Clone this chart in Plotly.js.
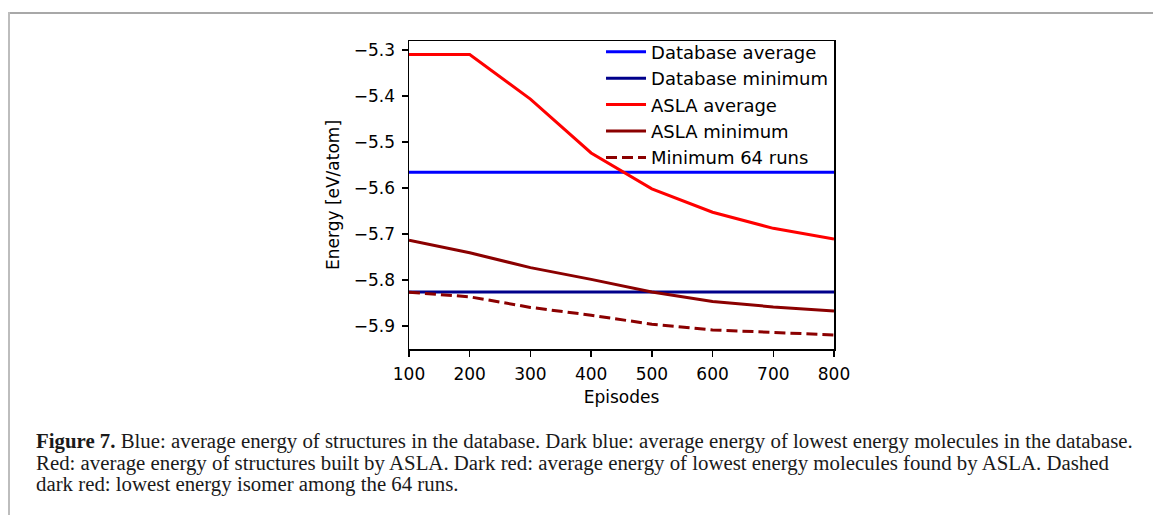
<!DOCTYPE html>
<html>
<head>
<meta charset="utf-8">
<script src="https://cdn.plot.ly/plotly-3.0.1.min.js"></script>
<style>
  html, body { margin: 0; padding: 0; background: #fff; }
  #page { position: relative; width: 1153px; height: 515px; overflow: hidden; background: #fff; }
  #frameTop { position: absolute; left: 8px; top: 12px; width: 1145px; height: 0; border-top: 2px solid #a8a8a8; }
  #frameLeft { position: absolute; left: 8px; top: 12px; width: 0; height: 503px; border-left: 2px solid #bdbdbd; }
  #chart { position: absolute; left: 0; top: 0; width: 1153px; height: 420px; }
  #caption { position: absolute; left: 36px; top: 431px; font-family: "Liberation Serif", "DejaVu Serif", serif;
             font-size: 18.5px; line-height: 21.7px; color: #1a1a1a; white-space: nowrap; }
  #caption span.line { display: block; }
</style>
</head>
<body>
<div id="page">
  <div id="frameTop"></div>
  <div id="frameLeft"></div>
  <div id="chart"></div>
  <div id="caption">
    <span class="line" id="l1"><b>Figure 7.</b> Blue: average energy of structures in the database. Dark blue: average energy of lowest energy molecules in the database.</span>
    <span class="line" id="l2">Red: average energy of structures built by ASLA. Dark red: average energy of lowest energy molecules found by ASLA. Dashed</span>
    <span class="line" id="l3">dark red: lowest energy isomer among the 64 runs.</span>
  </div>
</div>
<script>
// ---- data ----
const episodes = [100, 200, 300, 400, 500, 600, 700, 800];
const aslaAverage = [-5.310, -5.310, -5.407, -5.524, -5.602, -5.653, -5.688, -5.711];
const aslaMinimum = [-5.714, -5.741, -5.7735, -5.799, -5.8265, -5.847, -5.859, -5.868];
const minimum64Runs = [-5.827, -5.837, -5.860, -5.877, -5.8965, -5.909, -5.9145, -5.920];
const databaseAverage = -5.566;
const databaseMinimum = -5.8265;
const xTickVals = [100, 200, 300, 400, 500, 600, 700, 800];
const yTickVals = [-5.3, -5.4, -5.5, -5.6, -5.7, -5.8, -5.9];
const yTickText = ["\u22125.3", "\u22125.4", "\u22125.5", "\u22125.6", "\u22125.7", "\u22125.8", "\u22125.9"];
const seriesNames = ["Database average", "Database minimum", "ASLA average", "ASLA minimum", "Minimum 64 runs"];

const xEnds = [episodes[0], episodes[episodes.length - 1]];
const font = "DejaVu Sans, sans-serif";

const traces = [
  { x: xEnds, y: [databaseAverage, databaseAverage], name: seriesNames[0], mode: "lines",
    line: { color: "#0000ff", width: 3 } },
  { x: xEnds, y: [databaseMinimum, databaseMinimum], name: seriesNames[1], mode: "lines",
    line: { color: "#00008b", width: 3 } },
  { x: episodes, y: aslaAverage, name: seriesNames[2], mode: "lines",
    line: { color: "#ff0000", width: 3 } },
  { x: episodes, y: aslaMinimum, name: seriesNames[3], mode: "lines",
    line: { color: "#8b0000", width: 3 } },
  { x: episodes, y: minimum64Runs, name: seriesNames[4], mode: "lines",
    line: { color: "#8b0000", width: 3, dash: "11px,5px" } }
];

const axisCommon = {
  showgrid: false, zeroline: false, showline: true, mirror: true,
  linecolor: "#000", linewidth: 1.5, ticks: "outside", ticklen: 6, tickwidth: 1.5,
  tickcolor: "#000", tickfont: { family: font, size: 17, color: "#000" }, ticklabelstandoff: 3
};

const layout = {
  width: 1153, height: 420,
  margin: { l: 409, r: 319, t: 41, b: 71 },
  paper_bgcolor: "rgba(0,0,0,0)", plot_bgcolor: "#fff",
  showlegend: true,
  legend: { x: 0.4518, xanchor: "left", y: 1.024, yanchor: "top", bgcolor: "rgba(0,0,0,0)",
            borderwidth: 0, font: { family: font, size: 18, color: "#000" }, itemwidth: 40 },
  xaxis: Object.assign({}, axisCommon, {
    range: [100, 800], tickvals: xTickVals,
    title: { text: "Episodes", font: { family: font, size: 17, color: "#000" }, standoff: 8 }
  }),
  yaxis: Object.assign({}, axisCommon, {
    range: [-5.9505, -5.2805], tickvals: yTickVals, ticktext: yTickText,
    title: { text: "Energy [eV/atom]", font: { family: font, size: 17, color: "#000" }, standoff: 10 }
  })
};

Plotly.newPlot("chart", traces, layout, { staticPlot: true, displayModeBar: false });

// fit caption line 1 to the reference width
(function fitCaption() {
  const cap = document.getElementById("caption");
  const l1 = document.getElementById("l1");
  const target = 1097;
  const r = l1.getBoundingClientRect().width;
  if (r > 0) {
    const fs = parseFloat(getComputedStyle(cap).fontSize) * target / r;
    cap.style.fontSize = fs.toFixed(2) + "px";
  }
})();
</script>
</body>
</html>
